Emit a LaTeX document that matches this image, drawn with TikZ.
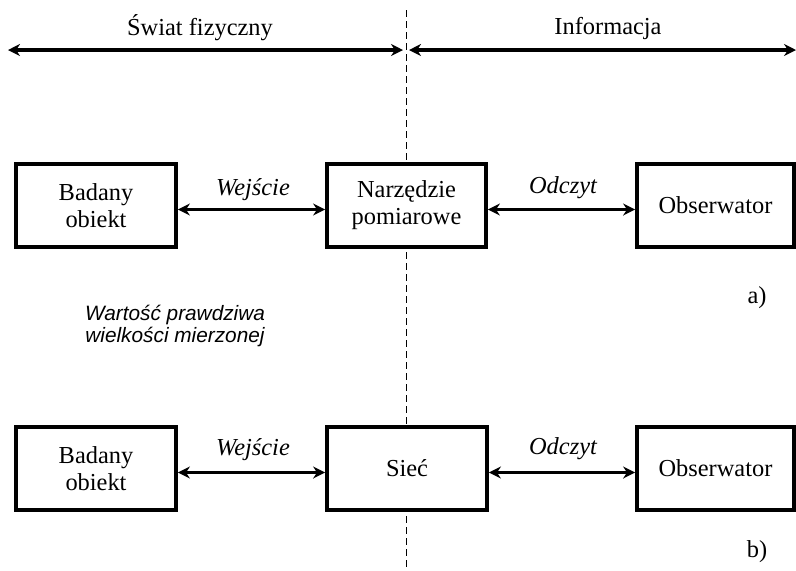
\documentclass[tikz,border=0pt]{standalone}
\usepackage{fontspec}
\setmainfont{Liberation Serif}
\newfontfamily\arialfont{Liberation Sans}
\usetikzlibrary{arrows.meta}
\begin{document}
\begin{tikzpicture}[x=0.5pt,y=-0.5pt,
  blk/.style={draw, line width=1.9pt, fill=white, minimum height=41.5pt,
    align=center, inner sep=0pt, font=\fontsize{12.2}{13.5}\selectfont},
  link/.style={line width=1.7pt,
    {Stealth[length=6pt,width=6pt]}-{Stealth[length=6pt,width=6pt]}},
  lbl/.style={font=\fontsize{12.2}{14}\selectfont\itshape, inner sep=0pt},
  plain/.style={font=\fontsize{12.2}{14}\selectfont, inner sep=0pt},
  divider/.style={line width=0.5pt, dash pattern=on 3.5pt off 2pt}]
\useasboundingbox (0,0) rectangle (796,570);

% border between the physical world and information
\coordinate (dtop) at (406,10);
\coordinate (dbot) at (406,570);
\draw[divider] (dtop) -- (dbot);

% top range arrows
\coordinate (tl) at (8,50);
\coordinate (tm1) at (403,50);
\coordinate (tm2) at (409,50);
\coordinate (tr) at (796,50);
\draw[link] (tl) -- (tm1);
\draw[link] (tm2) -- (tr);
\node[plain] (sw) at (200,28) {Świat fizyczny};
\node[plain] (inf) at (608,28) {Informacja};

% chain a)
\node[blk, minimum width=80pt] (a1) at (96,205.5) {Badany\\obiekt};
\node[blk, minimum width=79.5pt] (a2) at (406.5,205.5) {Narzędzie\\pomiarowe};
\node[blk, minimum width=78.5pt] (a3) at (715.5,205.5) {Obserwator};
\draw[link] ([yshift=-2pt]a1.east) -- ([yshift=-2pt]a2.west);
\draw[link] ([yshift=-2pt]a2.east) -- ([yshift=-2pt]a3.west);
\node[lbl] (la1) at (253,190) {Wejście};
\node[lbl] (la2) at (563,188) {Odczyt};
\node[plain] (ta) at (757,298) {a)};

\node[font=\arialfont\itshape\fontsize{10.4}{9.6}\selectfont, align=center,
  inner sep=0pt] (wp) at (175,326) {Wartość prawdziwa\\wielkości mierzonej};

% chain b)
\node[blk, minimum width=80pt] (b1) at (96,468.5) {Badany\\obiekt};
\node[blk, minimum width=80pt] (b2) at (407,468.5) {Sieć};
\node[blk, minimum width=78.5pt] (b3) at (715.5,468.5) {Obserwator};
\draw[link] ([yshift=-2pt]b1.east) -- ([yshift=-2pt]b2.west);
\draw[link] ([yshift=-2pt]b2.east) -- ([yshift=-2pt]b3.west);
\node[lbl] (lb1) at (253,450) {Wejście};
\node[lbl] (lb2) at (563,449) {Odczyt};
\node[plain] (tb) at (757,552) {b)};
\end{tikzpicture}
\end{document}
